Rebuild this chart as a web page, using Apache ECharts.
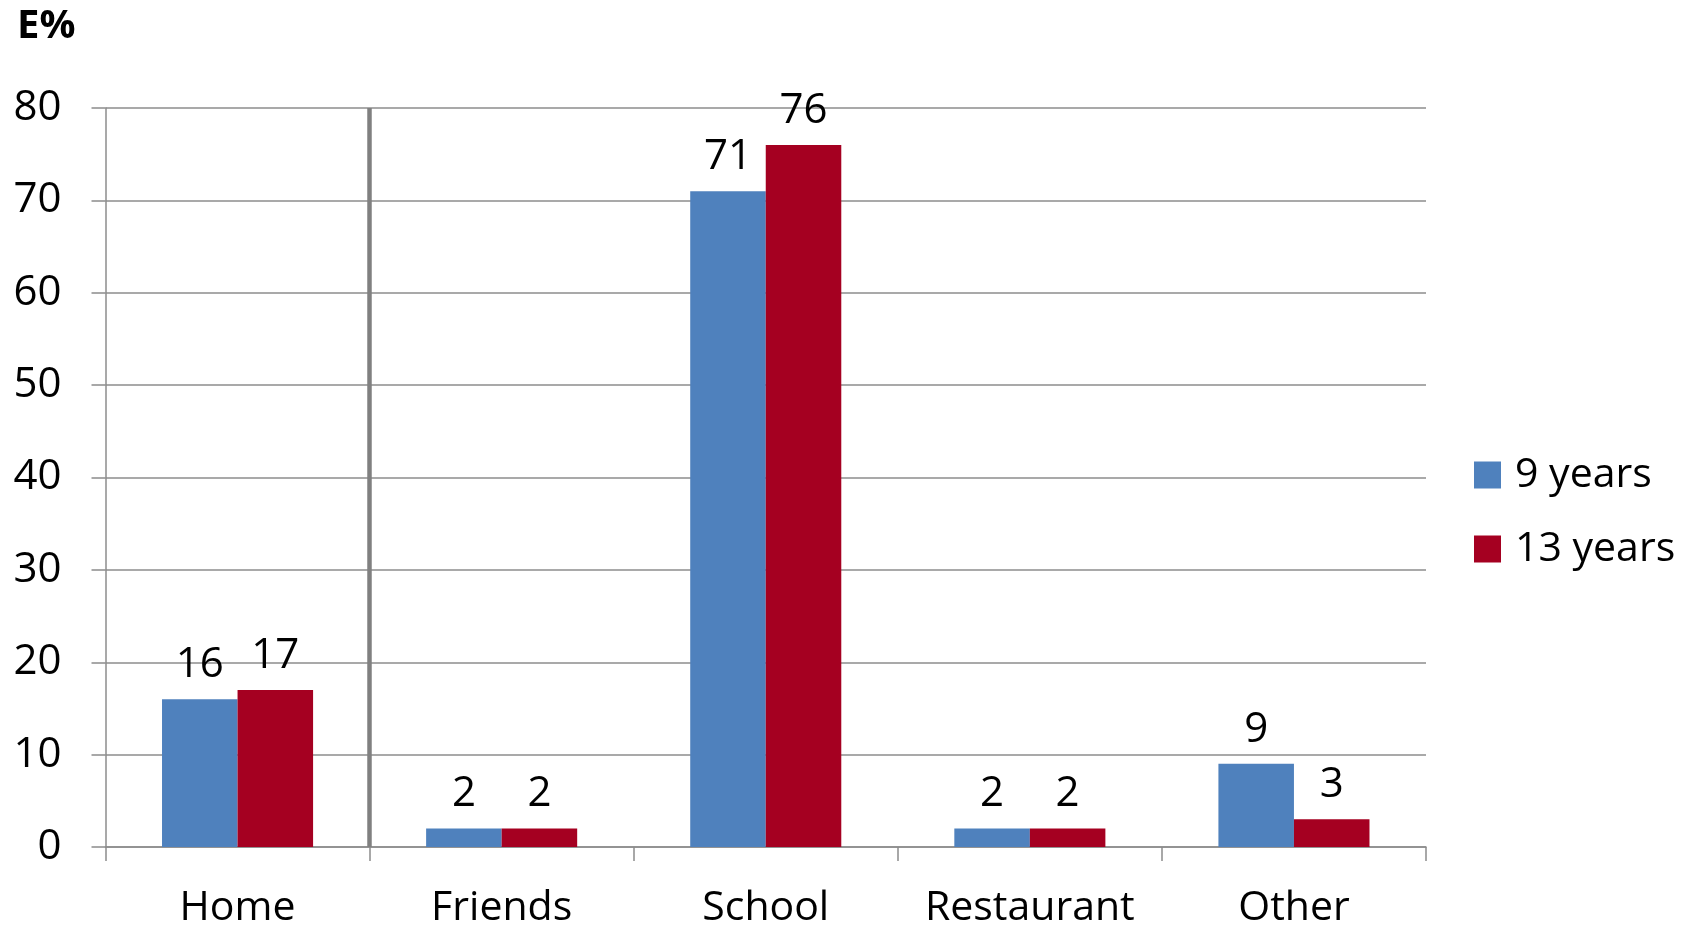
<!DOCTYPE html>
<html>
<head>
<meta charset="utf-8">
<script src="https://cdn.jsdelivr.net/npm/echarts@6/dist/echarts.min.js"></script>
<style>
html,body{margin:0;padding:0;background:#fff;}
#chart{width:1694px;height:929px;}
</style>
</head>
<body>
<div id="chart"></div>
<script>
const categories = ['Home', 'Friends', 'School', 'Restaurant', 'Other'];
const years9 = [16, 2, 71, 2, 9];
const years13 = [17, 2, 76, 2, 3];
const seriesNames = ['9 years', '13 years'];
const yTicks = [0, 10, 20, 30, 40, 50, 60, 70, 80];
const dividerAt = [1];

const FONT = '"Open Sans", "Noto Sans", sans-serif';
const GRID = '#8c8c8c';

const chart = echarts.init(document.getElementById('chart'), null, {renderer: 'canvas'});
chart.setOption({
  animation: false,
  backgroundColor: '#ffffff',
  title: {
    text: 'E%', left: 12, top: 2,
    textStyle: {fontFamily: FONT, fontSize: 40, fontWeight: 'bold', color: '#000'}
  },
  legend: {
    orient: 'vertical', left: 1469, top: 449,
    itemWidth: 27, itemHeight: 27, itemGap: 32,
    icon: 'rect',
    textStyle: {fontFamily: FONT, fontSize: 41, color: '#000', lineHeight: 42, padding: [0, 0, 0, 9]},
    data: seriesNames
  },
  grid: {left: 105.5, right: 268, top: 108, bottom: 81, containLabel: false},
  xAxis: [{
    type: 'category', data: categories, boundaryGap: true,
    axisLine: {lineStyle: {color: GRID, width: 1.5}},
    axisTick: {show: true, interval: 0, length: 14, lineStyle: {color: GRID, width: 1.5}},
    axisLabel: {interval: 0, hideOverlap: false, fontFamily: FONT, fontSize: 41, color: '#000', margin: 41}
  }, {
    type: 'value', min: 0, max: categories.length, show: false
  }],
  yAxis: {
    type: 'value', min: yTicks[0], max: yTicks[yTicks.length - 1], interval: 10,
    axisLine: {show: true, lineStyle: {color: GRID, width: 1.5}},
    axisTick: {show: true, length: 14, lineStyle: {color: GRID, width: 1.5}},
    splitLine: {show: true, lineStyle: {color: GRID, width: 1.5}},
    axisLabel: {fontFamily: FONT, fontSize: 42, color: '#000', margin: 44}
  },
  series: [{
    name: seriesNames[0], type: 'bar', data: years9,
    barGap: '0%', barCategoryGap: '42.8%',
    itemStyle: {color: '#4f81bd'},
    label: {show: true, position: 'top', distance: 13, fontFamily: FONT, fontSize: 42, color: '#000'}
  }, {
    name: seriesNames[1], type: 'bar', data: years13,
    barGap: '0%', barCategoryGap: '42.8%',
    itemStyle: {color: '#a50021'},
    label: {show: true, position: 'top', distance: 13, fontFamily: FONT, fontSize: 42, color: '#000'}
  }, {
    name: 'divider', type: 'line', xAxisIndex: 1, data: [],
    markLine: {
      silent: true, symbol: 'none', label: {show: false},
      lineStyle: {color: '#808080', width: 4.5, type: 'solid'},
      data: dividerAt.map(v => ({xAxis: v}))
    }
  }]
});
</script>
</body>
</html>
